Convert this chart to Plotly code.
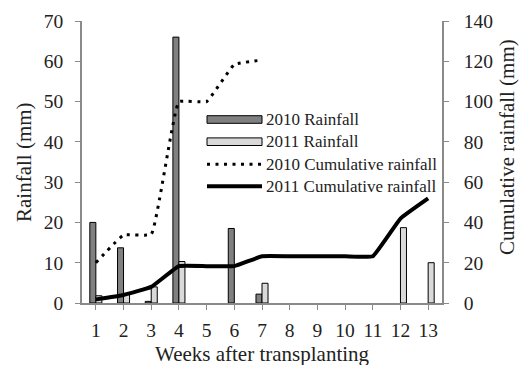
import plotly.graph_objects as go

weeks = list(range(1, 14))
tick_labels = [str(w) for w in weeks]

rain_2010 = [20.0, 13.7, 0.4, 66.0, None, 18.5, 2.2, None, None, None, None, None, None]
rain_2011 = [1.8, 2.2, 4.0, 10.3, None, None, 4.9, None, None, None, None, 18.7, 10.0]

cum_weeks_2010 = [1, 2, 3, 4, 5, 6, 7]
cum_2010 = [20.0, 33.7, 34.1, 99.9, 100.0, 118.4, 120.6]
cum_2011 = [1.8, 4.0, 8.0, 18.3, 18.3, 18.3, 23.2, 23.2, 23.2, 23.2, 23.2, 41.9, 51.9]

series_names = ["2010 Rainfall", "2011 Rainfall", "2010 Cumulative rainfall", "2011 Cumulative rainfall"]

FONT = "Liberation Serif"
AXC = "#8a8a8a"
TXT = "#222222"
DARK = "#808080"
LIGHT = "#d9d9d9"
DOT = "3px,5.5px"

# plot area in pixels (for placing the hand-drawn legend and titles)
L, R, T, B = 82, 442, 21, 303
W, H = R - L, B - T
def px(x):
    return (x - L) / W
def py(y):
    return (B - y) / H

fig = go.Figure()
fig.add_trace(go.Bar(x=weeks, y=rain_2010, name=series_names[0], showlegend=False,
                     marker=dict(color=DARK, line=dict(color="black", width=1))))
fig.add_trace(go.Bar(x=weeks, y=rain_2011, name=series_names[1], showlegend=False,
                     marker=dict(color=LIGHT, line=dict(color="black", width=1))))
fig.add_trace(go.Scatter(x=cum_weeks_2010, y=cum_2010, name=series_names[2], showlegend=False,
                         yaxis="y2", mode="lines",
                         line=dict(color="black", width=3, dash=DOT, shape="spline", smoothing=0.3)))
fig.add_trace(go.Scatter(x=weeks, y=cum_2011, name=series_names[3], showlegend=False,
                         yaxis="y2", mode="lines",
                         line=dict(color="black", width=4, shape="spline", smoothing=0.3)))

axis_common = dict(showgrid=False, zeroline=False, ticks="outside", ticklen=5,
                   tickcolor=AXC, linecolor=AXC, linewidth=1.5, showline=True,
                   tickfont=dict(family=FONT, size=19.5, color=TXT))

# hand-drawn legend (wide swatches like the original)
row_y = [119.5, 141.7, 164.3, 186.3]
sx0, sx1, tx = 207, 262, 264
shapes = [
    dict(type="rect", xref="paper", yref="paper", x0=px(sx0), x1=px(sx1),
         y0=py(row_y[0] + 3.8), y1=py(row_y[0] - 3.8),
         fillcolor=DARK, line=dict(color="black", width=1)),
    dict(type="rect", xref="paper", yref="paper", x0=px(sx0), x1=px(sx1),
         y0=py(row_y[1] + 3.8), y1=py(row_y[1] - 3.8),
         fillcolor=LIGHT, line=dict(color="black", width=1)),
    dict(type="line", xref="paper", yref="paper", x0=px(sx0), x1=px(sx1),
         y0=py(row_y[2]), y1=py(row_y[2]), line=dict(color="black", width=3, dash=DOT)),
    dict(type="line", xref="paper", yref="paper", x0=px(sx0), x1=px(sx1),
         y0=py(row_y[3]), y1=py(row_y[3]), line=dict(color="black", width=4)),
]
annotations = [
    dict(text=name, xref="paper", yref="paper", x=px(tx), y=py(yy), showarrow=False,
         xanchor="left", yanchor="middle", font=dict(family=FONT, size=17, color=TXT))
    for name, yy in zip(series_names, row_y)
]
annotations += [
    dict(text="Rainfall (mm)", xref="paper", yref="paper", x=px(24), y=py(162),
         textangle=-90, showarrow=False, xanchor="center", yanchor="middle",
         font=dict(family=FONT, size=21, color=TXT)),
    dict(text="Cumulative rainfall (mm)", xref="paper", yref="paper", x=px(507), y=py(147),
         textangle=-90, showarrow=False, xanchor="center", yanchor="middle",
         font=dict(family=FONT, size=21, color=TXT)),
    dict(text="Weeks after transplanting", xref="paper", yref="paper", x=px(262), y=py(354),
         showarrow=False, xanchor="center", yanchor="middle",
         font=dict(family=FONT, size=21, color=TXT)),
]

fig.update_layout(
    width=527, height=365,
    margin=dict(l=L, r=527 - R, t=T, b=365 - B),
    paper_bgcolor="white", plot_bgcolor="white",
    barmode="group", bargap=0.565, bargroupgap=0,
    font=dict(family=FONT, color=TXT),
    showlegend=False,
    xaxis=dict(range=[0.5, 13.5], tickvals=weeks, ticktext=tick_labels,
               ticklabelstandoff=4, **axis_common),
    yaxis=dict(range=[0, 70], dtick=10, ticklabelstandoff=8, **axis_common),
    yaxis2=dict(range=[0, 140], dtick=20, overlaying="y", side="right",
                ticklabelstandoff=11, **axis_common),
    shapes=shapes,
    annotations=annotations,
)

fig.write_html("out.html", config={"displayModeBar": False},
               post_script="document.body.style.margin='0';")
